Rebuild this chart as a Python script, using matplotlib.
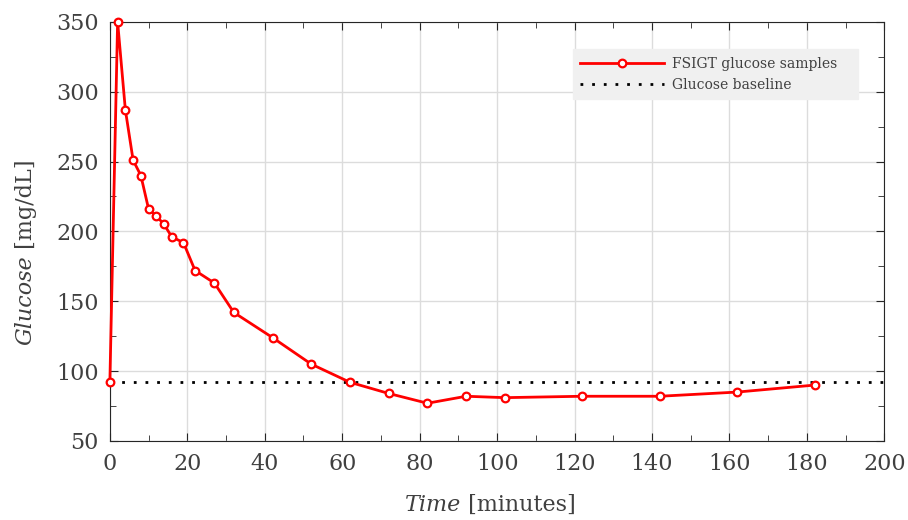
import numpy as np
import matplotlib
matplotlib.use("Agg")
import matplotlib.pyplot as plt
from matplotlib.ticker import MultipleLocator

# FSIGT samples
t = [0, 2, 4, 6, 8, 10, 12, 14, 16, 19, 22, 27, 32, 42, 52, 62, 72, 82,
     92, 102, 122, 142, 162, 182]
glucose = [92, 350, 287, 251, 240, 216, 211, 205, 196, 192, 172, 163, 142,
           124, 105, 92, 84, 77, 82, 81, 82, 82, 85, 90]
baseline = 92

plt.rcParams['font.family'] = 'DejaVu Serif'
txt = '#404040'

fig = plt.figure(figsize=(9.08, 5.2), dpi=100)
ax = fig.add_axes([0.121, 0.152, 0.853, 0.806])

# trailing spaces widen the legend box on the right like the original
ax.plot(t, glucose, '-o', color='red', lw=2, ms=5.5, mfc='white',
        mec='red', mew=1.6, label='FSIGT glucose samples   ', zorder=3,
        clip_on=False)
ax.axhline(baseline, color='black', ls=(0, (1, 3.2)), lw=2,
           label='Glucose baseline', zorder=2)

ax.set_xlim(0, 200)
ax.set_ylim(50, 350)
ax.xaxis.set_major_locator(MultipleLocator(20))
ax.xaxis.set_minor_locator(MultipleLocator(10))
ax.yaxis.set_major_locator(MultipleLocator(50))
ax.yaxis.set_minor_locator(MultipleLocator(25))
ax.grid(True, which='major', color='#dcdcdc', lw=1)
ax.set_axisbelow(True)
ax.tick_params(which='both', direction='in', top=True, right=True,
               colors='#262626', labelcolor=txt, labelsize=16)
ax.tick_params(which='major', length=6)
ax.tick_params(which='minor', length=4)
ax.tick_params(axis='x', pad=9)
ax.tick_params(axis='y', pad=8)
for s in ax.spines.values():
    s.set_color('#262626')

# axis titles: italic quantity + upright unit
fig.text(0.508, 0.008, 'Time', style='italic', fontsize=16, color=txt,
         ha='right', va='bottom')
fig.text(0.508, 0.008, ' [minutes]', fontsize=16, color=txt,
         ha='left', va='bottom')
fig.text(0.016, 0.508, 'Glucose', style='italic', fontsize=16, color=txt,
         rotation=90, ha='left', va='top')
fig.text(0.016, 0.508, ' [mg/dL]', fontsize=16, color=txt,
         rotation=90, ha='left', va='bottom')

leg = ax.legend(loc='upper right', bbox_to_anchor=(0.966, 0.935),
                borderaxespad=0, fontsize=10, frameon=True, fancybox=False,
                handlelength=6, handletextpad=0.6, labelcolor=txt,
                borderpad=0.55)
leg.get_frame().set_facecolor('#f0f0f0')
leg.get_frame().set_edgecolor('#f0f0f0')
leg.get_frame().set_alpha(1)

fig.savefig('out.png', dpi=100)
